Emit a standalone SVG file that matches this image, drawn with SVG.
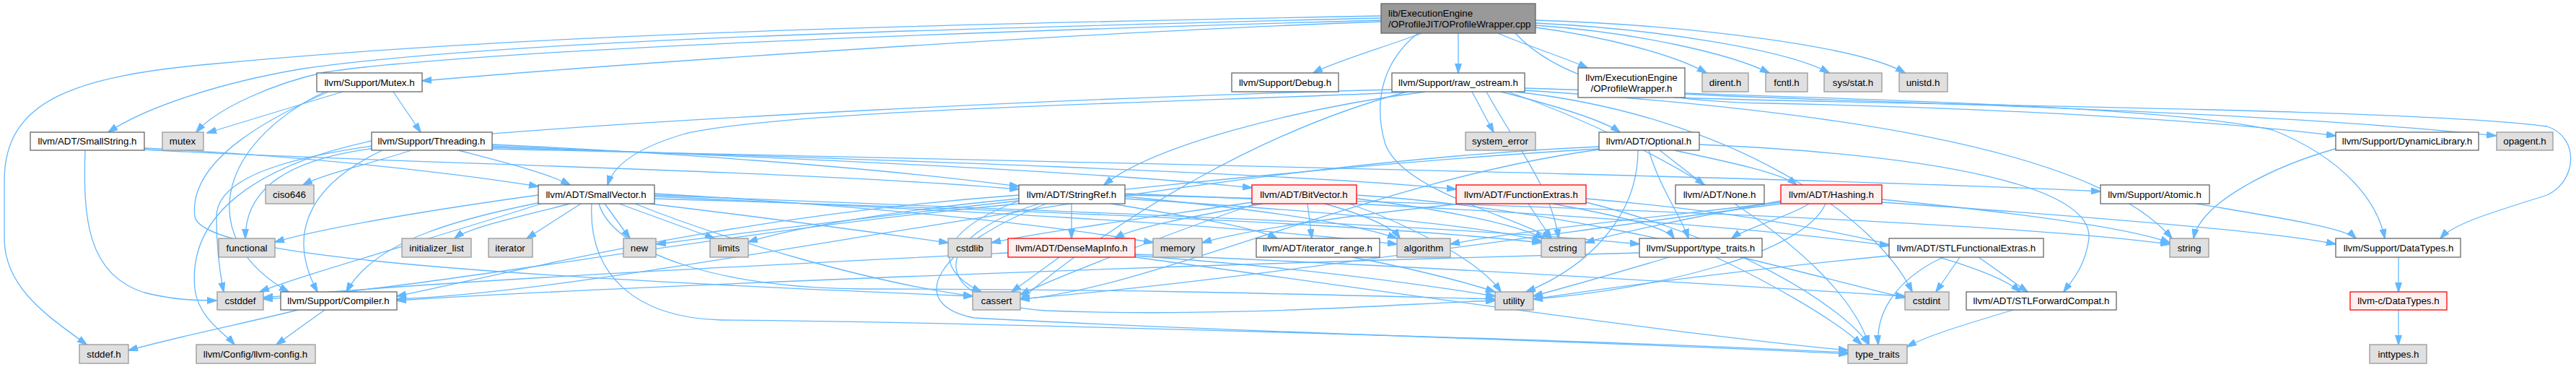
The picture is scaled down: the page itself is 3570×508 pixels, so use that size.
<svg xmlns="http://www.w3.org/2000/svg" width="3570" height="508" viewBox="0 0 3570 508">
<defs>
<marker id="a" markerWidth="14" markerHeight="10" refX="13" refY="5" orient="auto" markerUnits="userSpaceOnUse"><path d="M0,0.5 L14,5 L0,9.5 z" fill="#63b8ff" stroke="#63b8ff" stroke-width="1"/></marker>
</defs>
<style>
.e path{fill:none;stroke:#63b8ff;stroke-width:1.3;marker-end:url(#a)}
rect{stroke-width:1.3}
.w rect{fill:#fff;stroke:#666}
.g rect{fill:#e0e0e0;stroke:#999}
.r rect{fill:#fff0f0;stroke:#ff0000}
.m rect{fill:#999;stroke:#666}
text{font-family:"Liberation Sans",Arial,Helvetica,sans-serif;font-size:13.33px;fill:#000;text-anchor:middle}
</style>
<rect width="3570" height="508" fill="#fff"/>
<g id="edges" class="e">
<path d="M2076,46 C2120,65 2170,80 2200,94"/>
<path d="M2128,38 C2220,50 2320,75 2365,101"/>
<path d="M2128,35 C2270,45 2400,75 2452,101"/>
<path d="M2128,32 C2300,40 2480,70 2535,101"/>
<path d="M2128,28 C2350,35 2580,65 2640,101"/>
<path d="M2021,46 L2021,101"/>
<path d="M1970,46 C1920,65 1850,85 1820,101"/>
<path d="M1914,30 C1500,45 900,85 585,112"/>
<path d="M1914,25 C1300,40 700,55 420,95 C300,115 200,150 150,183"/>
<path d="M1914,28 C1300,45 650,70 450,100 C380,115 300,150 272,183"/>
<path d="M1914,22 C1200,35 700,50 300,88 C100,105 6,140 6,250 L6,330 C6,400 70,440 120,477"/>
<path d="M1965,46 C1910,90 1905,150 1920,200 C1945,265 2100,300 2150,330"/>
<path d="M2100,46 C2150,100 2250,140 2450,143 C2800,150 3100,170 3237,188"/>
<path d="M2335,130 C2500,140 3100,150 3459,188"/>
<path d="M2320,135 C2600,145 3350,150 3530,175 C3575,190 3572,250 3530,270 C3450,295 3400,310 3382,330"/>
<path d="M2040,127 L2070,183"/>
<path d="M2080,127 C2150,145 2220,165 2245,183"/>
<path d="M1960,127 C1700,140 1100,150 950,185 C880,205 850,230 842,256"/>
<path d="M1975,127 C1800,150 1600,200 1530,256"/>
<path d="M2113,122 C2500,135 3000,145 3150,180 C3250,220 3295,280 3305,330"/>
<path d="M1950,127 C1750,180 1550,300 1414,415"/>
<path d="M1929,124 C1500,135 900,165 600,192 C420,210 300,240 300,300 C300,350 305,380 310,404"/>
<path d="M2100,127 C2400,160 2600,300 2650,404"/>
<path d="M2060,127 C2100,200 2150,260 2160,330"/>
<path d="M2113,125 C2500,150 2900,200 3010,330"/>
<path d="M2090,127 C2300,200 2550,350 2590,477"/>
<path d="M3240,205 C3150,230 3050,280 3040,330"/>
<path d="M545,127 L583,183"/>
<path d="M475,127 L287,184"/>
<path d="M455,127 C380,160 260,220 270,300 C280,350 600,380 1348,410"/>
<path d="M450,127 C300,200 270,330 400,404"/>
<path d="M118,208 C115,300 120,380 200,405 C240,415 270,416 300,416"/>
<path d="M200,205 C400,215 600,235 746,258"/>
<path d="M200,207 C500,225 1100,235 1412,262"/>
<path d="M570,208 C520,225 450,240 420,256"/>
<path d="M635,208 C700,225 760,240 790,256"/>
<path d="M682,200 C900,210 1200,230 1412,258"/>
<path d="M682,202 C1000,215 1500,235 1735,260"/>
<path d="M682,204 C1200,220 1800,240 2018,262"/>
<path d="M682,206 C1500,225 2500,245 2911,265"/>
<path d="M520,205 C400,220 340,260 340,330"/>
<path d="M530,208 C420,260 400,330 440,404"/>
<path d="M515,195 C350,230 260,300 270,400 C275,440 310,460 325,477"/>
<path d="M2320,208 C2400,225 2470,240 2490,256"/>
<path d="M2300,208 L2362,256"/>
<path d="M2285,208 C2300,260 2330,300 2340,330"/>
<path d="M2270,208 C2270,300 2200,370 2115,404"/>
<path d="M2355,200 C2700,215 2900,260 2895,330 C2890,370 2870,390 2860,404"/>
<path d="M2216,203 C1600,230 900,400 550,414"/>
<path d="M2216,207 C1900,250 1600,400 1414,414"/>
<path d="M2216,206 C1800,230 1200,300 910,338"/>
<path d="M750,280 C650,300 520,330 480,404"/>
<path d="M907,270 C1400,290 2000,310 2272,338"/>
<path d="M907,272 C1300,290 1700,310 1936,338"/>
<path d="M880,282 C1000,330 1200,390 1348,410"/>
<path d="M750,282 C600,330 420,380 360,404"/>
<path d="M900,282 C1050,300 1200,320 1314,336"/>
<path d="M907,275 C1400,290 1900,310 2136,336"/>
<path d="M746,270 C600,290 450,315 381,335"/>
<path d="M790,282 C720,300 650,315 630,330"/>
<path d="M805,282 L730,330"/>
<path d="M858,282 L990,330"/>
<path d="M907,268 C1200,285 1450,310 1598,336"/>
<path d="M838,282 L873,330"/>
<path d="M820,282 C815,380 880,440 1000,443 C1300,445 2200,470 2561,488"/>
<path d="M830,282 C850,350 1000,400 1200,400 C1600,400 1900,410 2072,414"/>
<path d="M1485,282 L1485,330"/>
<path d="M1559,268 C2000,285 2400,310 2618,340"/>
<path d="M1540,282 C1650,300 1740,315 1770,330"/>
<path d="M1412,270 C1000,300 700,380 550,410"/>
<path d="M1559,272 C1750,290 1880,310 1936,330"/>
<path d="M1412,278 C1300,320 1290,370 1360,404"/>
<path d="M1412,282 C1000,320 600,400 365,414"/>
<path d="M1559,275 C1800,290 2050,310 2136,334"/>
<path d="M1412,275 C1250,290 1100,315 1037,335"/>
<path d="M1559,270 C2200,285 2800,310 3007,338"/>
<path d="M1450,282 C1300,340 1250,420 1350,440 C1700,460 2300,475 2561,490"/>
<path d="M1440,282 C1280,330 1290,420 1450,430 C1700,440 1950,420 2072,416"/>
<path d="M1750,282 C1650,300 1570,315 1545,330"/>
<path d="M1812,282 L1818,330"/>
<path d="M1836,282 C1900,300 1930,315 1940,330"/>
<path d="M1740,282 C1600,330 1450,390 1414,408"/>
<path d="M1880,270 C2200,290 2500,380 2640,412"/>
<path d="M1735,280 C1600,300 1450,320 1374,336"/>
<path d="M1880,275 C2000,290 2100,310 2140,330"/>
<path d="M1870,282 C1950,310 2050,360 2080,404"/>
<path d="M2118,282 L2150,330"/>
<path d="M2152,282 C2250,300 2310,315 2320,330"/>
<path d="M2025,282 C1850,300 1720,320 1666,336"/>
<path d="M2198,275 C2500,300 2750,360 2800,404"/>
<path d="M2198,280 C2400,330 2550,420 2590,477"/>
<path d="M2507,282 C2480,300 2420,315 2400,330"/>
<path d="M2608,280 C2900,300 3150,320 3237,338"/>
<path d="M2468,280 C2300,300 2100,320 2010,338"/>
<path d="M2468,282 C2100,330 1700,390 1414,414"/>
<path d="M2468,278 C2350,300 2250,320 2197,336"/>
<path d="M2608,276 C2800,295 2950,315 3007,336"/>
<path d="M2530,282 C2500,350 2300,400 2125,414"/>
<path d="M3044,282 C3150,300 3250,315 3265,330"/>
<path d="M1468,356 L1402,404"/>
<path d="M1397,350 C1000,370 600,390 365,412"/>
<path d="M1573,352 C2000,370 2400,395 2640,410"/>
<path d="M1573,356 C1900,400 2300,460 2561,485"/>
<path d="M1573,354 C1800,370 1950,390 2072,410"/>
<path d="M1874,356 C1950,370 2030,390 2072,404"/>
<path d="M2272,350 C1500,370 800,400 550,416"/>
<path d="M2313,356 C2250,375 2180,395 2125,410"/>
<path d="M2378,356 C2450,390 2540,440 2580,477"/>
<path d="M2742,356 L2810,404"/>
<path d="M2716,356 L2683,404"/>
<path d="M2693,356 C2620,390 2600,440 2603,477"/>
<path d="M2618,354 C2450,370 2250,395 2125,414"/>
<path d="M2790,429 C2720,450 2670,465 2643,480"/>
<path d="M413,429 C350,445 250,465 178,485"/>
<path d="M450,429 L383,477"/>
<path d="M3324,356 L3324,404"/>
<path d="M3324,429 L3324,477"/>
</g>
<g id="main" class="m"><rect x="1914" y="5" width="214" height="41"/><text x="1924" y="22.6" style="text-anchor:start">lib/ExecutionEngine</text><text x="1924" y="37.6" style="text-anchor:start">/OProfileJIT/OProfileWrapper.cpp</text></g>
<g id="mutexh" class="w"><rect x="439" y="101" width="146" height="26"/><text x="512" y="118.6">llvm/Support/Mutex.h</text></g>
<g id="debug" class="w"><rect x="1707" y="101" width="148" height="26"/><text x="1781" y="118.6">llvm/Support/Debug.h</text></g>
<g id="rawostream" class="w"><rect x="1929" y="101" width="184" height="26"/><text x="2021" y="118.6">llvm/Support/raw_ostream.h</text></g>
<g id="opwh" class="w"><rect x="2187" y="94" width="148" height="41"/><text x="2261" y="111.6">llvm/ExecutionEngine</text><text x="2261" y="126.6">/OProfileWrapper.h</text></g>
<g id="dirent" class="g"><rect x="2359" y="101" width="64" height="26"/><text x="2391" y="118.6">dirent.h</text></g>
<g id="fcntl" class="g"><rect x="2447" y="101" width="58" height="26"/><text x="2476" y="118.6">fcntl.h</text></g>
<g id="sysstat" class="g"><rect x="2528" y="101" width="80" height="26"/><text x="2568" y="118.6">sys/stat.h</text></g>
<g id="unistd" class="g"><rect x="2632" y="101" width="67" height="26"/><text x="2665" y="118.6">unistd.h</text></g>
<g id="smallstring" class="w"><rect x="42" y="183" width="158" height="25"/><text x="121" y="200">llvm/ADT/SmallString.h</text></g>
<g id="mutex" class="g"><rect x="225" y="183" width="57" height="25"/><text x="253" y="200">mutex</text></g>
<g id="threading" class="w"><rect x="515" y="183" width="167" height="25"/><text x="598" y="200">llvm/Support/Threading.h</text></g>
<g id="syserr" class="g"><rect x="2031" y="183" width="97" height="25"/><text x="2079" y="200">system_error</text></g>
<g id="optional" class="w"><rect x="2216" y="183" width="139" height="25"/><text x="2285" y="200">llvm/ADT/Optional.h</text></g>
<g id="dynlib" class="w"><rect x="3237" y="183" width="198" height="25"/><text x="3336" y="200">llvm/Support/DynamicLibrary.h</text></g>
<g id="opagent" class="g"><rect x="3460" y="183" width="78" height="25"/><text x="3499" y="200">opagent.h</text></g>
<g id="ciso646" class="g"><rect x="368" y="256" width="67" height="26"/><text x="401" y="273.6">ciso646</text></g>
<g id="smallvector" class="w"><rect x="746" y="256" width="161" height="26"/><text x="826" y="273.6">llvm/ADT/SmallVector.h</text></g>
<g id="stringref" class="w"><rect x="1412" y="256" width="147" height="26"/><text x="1485" y="273.6">llvm/ADT/StringRef.h</text></g>
<g id="bitvector" class="r"><rect x="1735" y="256" width="145" height="26"/><text x="1807" y="273.6">llvm/ADT/BitVector.h</text></g>
<g id="funcextras" class="r"><rect x="2018" y="256" width="180" height="26"/><text x="2108" y="273.6">llvm/ADT/FunctionExtras.h</text></g>
<g id="none" class="w"><rect x="2322" y="256" width="123" height="26"/><text x="2383" y="273.6">llvm/ADT/None.h</text></g>
<g id="hashing" class="r"><rect x="2468" y="256" width="140" height="26"/><text x="2538" y="273.6">llvm/ADT/Hashing.h</text></g>
<g id="atomic" class="w"><rect x="2911" y="256" width="151" height="26"/><text x="2986" y="273.6">llvm/Support/Atomic.h</text></g>
<g id="functional" class="g"><rect x="303" y="330" width="78" height="26"/><text x="342" y="347.6">functional</text></g>
<g id="initlist" class="g"><rect x="557" y="330" width="96" height="26"/><text x="605" y="347.6">initializer_list</text></g>
<g id="iterator" class="g"><rect x="677" y="330" width="61" height="26"/><text x="707" y="347.6">iterator</text></g>
<g id="new" class="g"><rect x="864" y="330" width="45" height="26"/><text x="886" y="347.6">new</text></g>
<g id="limits" class="g"><rect x="984" y="330" width="53" height="26"/><text x="1010" y="347.6">limits</text></g>
<g id="cstdlib" class="g"><rect x="1314" y="330" width="60" height="26"/><text x="1344" y="347.6">cstdlib</text></g>
<g id="densemap" class="r"><rect x="1397" y="330" width="176" height="26"/><text x="1485" y="347.6">llvm/ADT/DenseMapInfo.h</text></g>
<g id="memory" class="g"><rect x="1598" y="330" width="68" height="26"/><text x="1632" y="347.6">memory</text></g>
<g id="iterrange" class="w"><rect x="1741" y="330" width="171" height="26"/><text x="1826" y="347.6">llvm/ADT/iterator_range.h</text></g>
<g id="algorithm" class="g"><rect x="1936" y="330" width="74" height="26"/><text x="1973" y="347.6">algorithm</text></g>
<g id="cstring" class="g"><rect x="2136" y="330" width="61" height="26"/><text x="2166" y="347.6">cstring</text></g>
<g id="typetraitsh" class="w"><rect x="2272" y="330" width="170" height="26"/><text x="2357" y="347.6">llvm/Support/type_traits.h</text></g>
<g id="stlfunc" class="w"><rect x="2618" y="330" width="214" height="26"/><text x="2725" y="347.6">llvm/ADT/STLFunctionalExtras.h</text></g>
<g id="string" class="g"><rect x="3007" y="330" width="54" height="26"/><text x="3034" y="347.6">string</text></g>
<g id="datatypes" class="w"><rect x="3237" y="330" width="173" height="26"/><text x="3324" y="347.6">llvm/Support/DataTypes.h</text></g>
<g id="cstddef" class="g"><rect x="301" y="404" width="64" height="25"/><text x="333" y="421">cstddef</text></g>
<g id="compiler" class="w"><rect x="389" y="404" width="161" height="25"/><text x="469" y="421">llvm/Support/Compiler.h</text></g>
<g id="cassert" class="g"><rect x="1348" y="404" width="66" height="25"/><text x="1381" y="421">cassert</text></g>
<g id="utility" class="g"><rect x="2072" y="404" width="53" height="25"/><text x="2098" y="421">utility</text></g>
<g id="cstdint" class="g"><rect x="2640" y="404" width="61" height="25"/><text x="2670" y="421">cstdint</text></g>
<g id="stlfwd" class="w"><rect x="2725" y="404" width="208" height="25"/><text x="2829" y="421">llvm/ADT/STLForwardCompat.h</text></g>
<g id="cdatatypes" class="r"><rect x="3257" y="404" width="134" height="25"/><text x="3324" y="421">llvm-c/DataTypes.h</text></g>
<g id="stddef" class="g"><rect x="110" y="477" width="68" height="26"/><text x="144" y="494.6">stddef.h</text></g>
<g id="llvmconfig" class="g"><rect x="272" y="477" width="165" height="26"/><text x="354" y="494.6">llvm/Config/llvm-config.h</text></g>
<g id="typetraits" class="g"><rect x="2561" y="477" width="82" height="26"/><text x="2602" y="494.6">type_traits</text></g>
<g id="inttypes" class="g"><rect x="3284" y="477" width="79" height="26"/><text x="3324" y="494.6">inttypes.h</text></g>
</svg>
